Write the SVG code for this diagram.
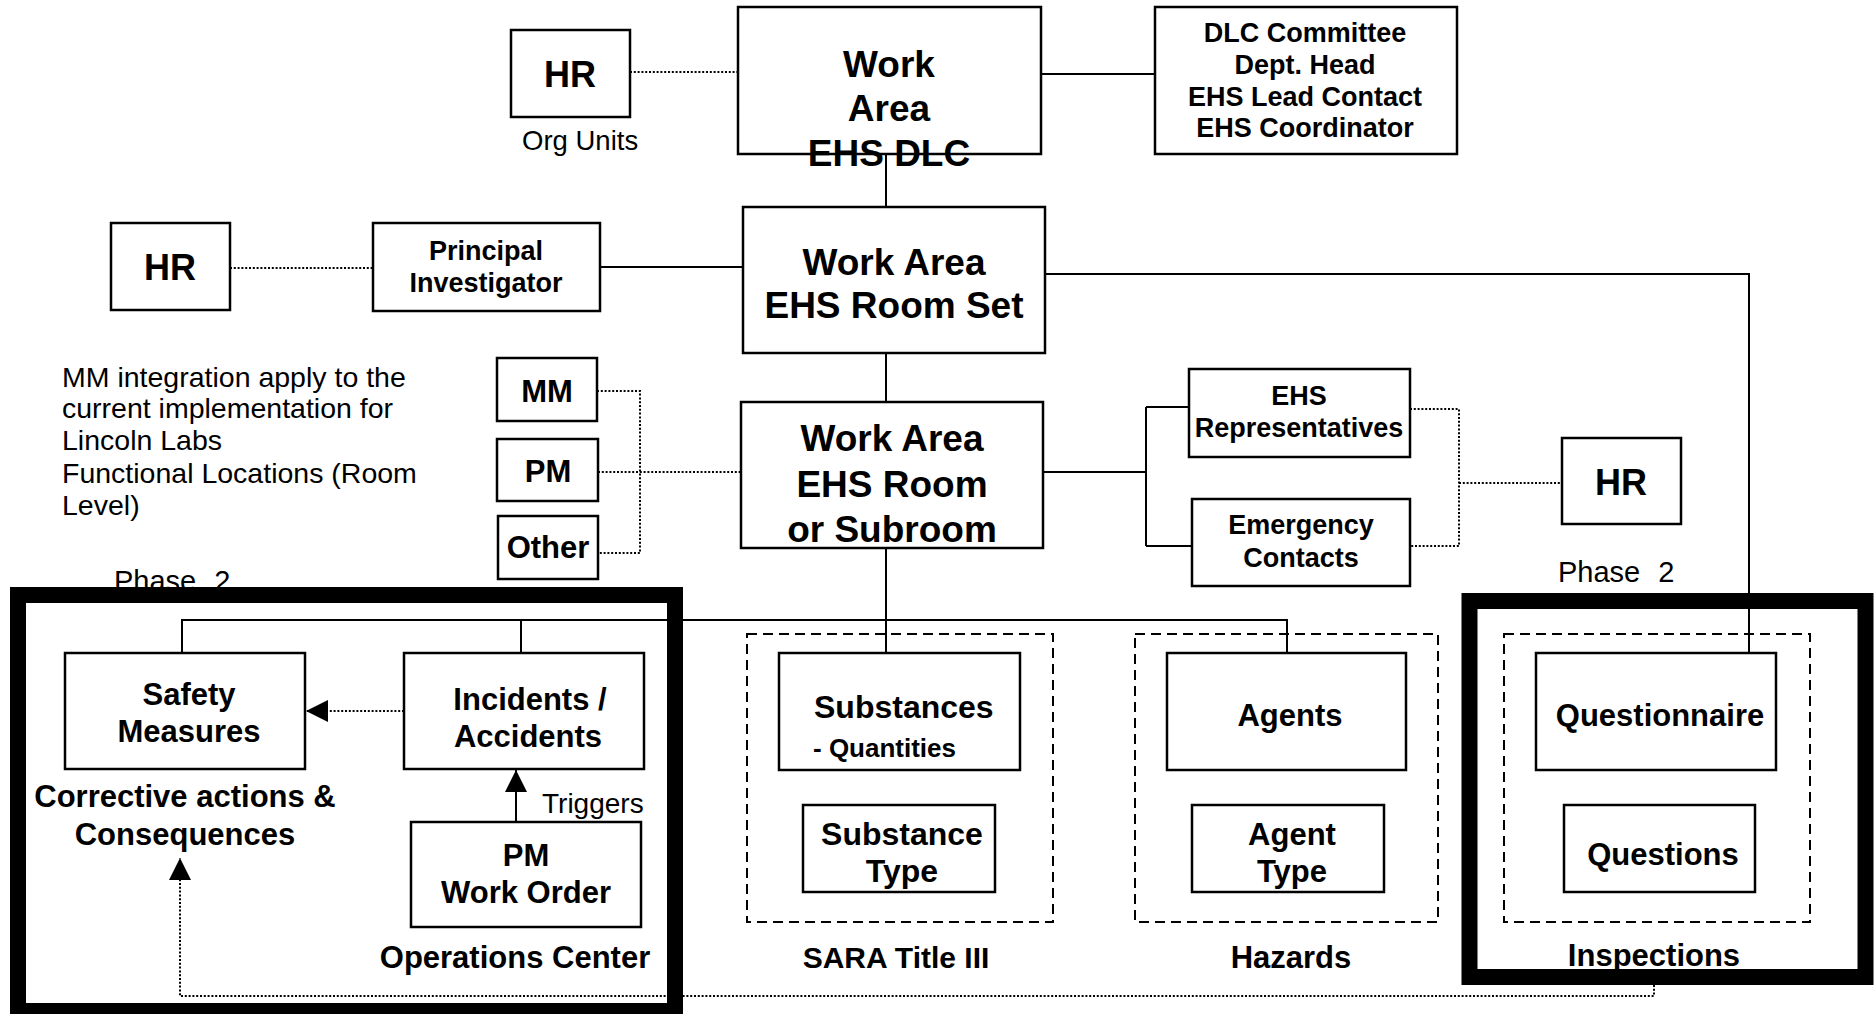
<svg xmlns="http://www.w3.org/2000/svg" width="1875" height="1014" viewBox="0 0 1875 1014">
<style>
  .box{fill:#fff;stroke:#000;stroke-width:2.5}
  .grp{fill:none;stroke:#000;stroke-width:2;stroke-dasharray:10 6}
  .frame{fill:none;stroke:#000;stroke-width:16}
  .ln{fill:none;stroke:#000;stroke-width:2}
  .dot{stroke-dasharray:2 1.8}
  text{font-family:"Liberation Sans",Arial,sans-serif;fill:#000}
  .b{font-weight:bold;text-anchor:middle}
  .bl{font-weight:bold}
  .r{font-weight:normal}
</style>
<defs>
  <marker id="ah" markerUnits="userSpaceOnUse" markerWidth="22" markerHeight="22" refX="22" refY="11" orient="auto">
    <path d="M0,0 L22,11 L0,22 z" fill="#000"/>
  </marker>
</defs>
<rect width="1875" height="1014" fill="#fff"/>

<!-- dashed groupings -->
<g id="grp-sara"><rect class="grp" x="747" y="634" width="306" height="288"/></g>
<g id="grp-hazards"><rect class="grp" x="1135" y="634" width="303" height="288"/></g>
<g id="grp-inspections"><rect class="grp" x="1504" y="634" width="306" height="288"/></g>

<!-- connectors -->
<g id="connectors">
  <path class="ln dot" d="M630,72 H738"/>
  <path class="ln" d="M1041,74 H1155"/>
  <path class="ln" d="M886,154 V207"/>
  <path class="ln" d="M600,267 H743"/>
  <path class="ln dot" d="M230,268 H373"/>
  <path class="ln" d="M1045,274 H1749 V653"/>
  <path class="ln" d="M886,353 V402"/>
  <path class="ln" d="M1043,472 H1146 M1146,407 V546 M1146,407 H1189 M1146,546 H1192"/>
  <path class="ln dot" d="M1410,409 H1459 V546 H1410 M1459,483 H1562"/>
  <path class="ln dot" d="M597,391 H640 V553 H599 M598,472 H741"/>
  <path class="ln" d="M886,548 V653"/>
  <path class="ln" d="M182,653 V620 H1287 V653 M521,620 V653"/>
  <path class="ln dot" d="M404,711 H306" marker-end="url(#ah)"/>
  <path class="ln" d="M516,822 V770" marker-end="url(#ah)"/>
  <path class="ln dot" d="M1654,985 V996 H180 V858" marker-end="url(#ah)"/>
</g>

<!-- top -->
<g id="hr-org">
  <rect class="box" x="511" y="30" width="119" height="87"/>
  <text class="b" x="570" y="87" font-size="36">HR</text>
  <text class="r" x="522" y="150" font-size="27.5">Org Units</text>
</g>
<g id="dlc">
  <rect class="box" x="738" y="7" width="303" height="147"/>
  <text class="b" font-size="37"><tspan x="889" y="77">Work</tspan><tspan x="889" y="121">Area</tspan><tspan x="889" y="166">EHS DLC</tspan></text>
</g>
<g id="dlc-committee">
  <rect class="box" x="1155" y="7" width="302" height="147"/>
  <text class="b" font-size="27"><tspan x="1305" y="42">DLC Committee</tspan><tspan x="1305" y="74">Dept. Head</tspan><tspan x="1305" y="106">EHS Lead Contact</tspan><tspan x="1305" y="137">EHS Coordinator</tspan></text>
</g>
<g id="hr-pi">
  <rect class="box" x="111" y="223" width="119" height="87"/>
  <text class="b" x="170" y="280" font-size="36">HR</text>
</g>
<g id="pi">
  <rect class="box" x="373" y="223" width="227" height="88"/>
  <text class="b" font-size="27"><tspan x="486" y="260">Principal</tspan><tspan x="486" y="292">Investigator</tspan></text>
</g>
<g id="room-set">
  <rect class="box" x="743" y="207" width="302" height="146"/>
  <text class="b" font-size="37"><tspan x="894" y="275">Work Area</tspan><tspan x="894" y="318">EHS Room Set</tspan></text>
</g>

<!-- middle -->
<g id="mm-note">
  <text class="r" font-size="28.5"><tspan x="62" y="387">MM integration apply to the</tspan><tspan x="62" y="418">current implementation for</tspan><tspan x="62" y="450">Lincoln Labs</tspan><tspan x="62" y="483">Functional Locations (Room</tspan><tspan x="62" y="515">Level)</tspan></text>
</g>
<g id="mm">
  <rect class="box" x="497" y="358" width="100" height="63"/>
  <text class="b" x="547" y="402" font-size="31">MM</text>
</g>
<g id="pm">
  <rect class="box" x="497" y="439" width="101" height="62"/>
  <text class="b" x="548" y="482" font-size="31">PM</text>
</g>
<g id="other">
  <rect class="box" x="498" y="516" width="100" height="63"/>
  <text class="b" x="548" y="558" font-size="31">Other</text>
</g>
<g id="room">
  <rect class="box" x="741" y="402" width="302" height="146"/>
  <text class="b" font-size="37"><tspan x="892" y="451">Work Area</tspan><tspan x="892" y="497">EHS Room</tspan><tspan x="892" y="542">or Subroom</tspan></text>
</g>
<g id="ehs-rep">
  <rect class="box" x="1189" y="369" width="221" height="88"/>
  <text class="b" font-size="27"><tspan x="1299" y="405">EHS</tspan><tspan x="1299" y="437">Representatives</tspan></text>
</g>
<g id="emergency">
  <rect class="box" x="1192" y="499" width="218" height="87"/>
  <text class="b" font-size="27"><tspan x="1301" y="534">Emergency</tspan><tspan x="1301" y="567">Contacts</tspan></text>
</g>
<g id="hr-ehs">
  <rect class="box" x="1562" y="438" width="119" height="86"/>
  <text class="b" x="1621" y="495" font-size="36">HR</text>
</g>

<!-- phase 2 labels -->
<text class="r" x="1558" y="582" font-size="29" word-spacing="10">Phase 2</text>
<text class="r" x="114" y="591" font-size="29" word-spacing="10">Phase 2</text>

<!-- bottom left -->
<g id="safety">
  <rect class="box" x="65" y="653" width="240" height="116"/>
  <text class="b" font-size="31"><tspan x="189" y="705">Safety</tspan><tspan x="189" y="742">Measures</tspan></text>
</g>
<text class="b" font-size="31"><tspan x="185" y="807">Corrective actions &amp;</tspan><tspan x="185" y="845">Consequences</tspan></text>
<g id="incidents">
  <rect class="box" x="404" y="653" width="240" height="116"/>
  <text class="b" font-size="31"><tspan x="530" y="710">Incidents /</tspan><tspan x="528" y="747">Accidents</tspan></text>
</g>
<text class="r" x="542" y="813" font-size="28">Triggers</text>
<g id="pm-wo">
  <rect class="box" x="411" y="822" width="230" height="105"/>
  <text class="b" font-size="31"><tspan x="526" y="866">PM</tspan><tspan x="526" y="903">Work Order</tspan></text>
</g>
<text class="b" x="515" y="968" font-size="31">Operations Center</text>

<!-- SARA -->
<g id="substances">
  <rect class="box" x="779" y="653" width="241" height="117"/>
  <text class="bl" x="814" y="718" font-size="32">Substances</text>
  <text class="bl" x="813" y="757" font-size="26">- Quantities</text>
</g>
<g id="substance-type">
  <rect class="box" x="803" y="805" width="192" height="87"/>
  <text class="b" font-size="32"><tspan x="902" y="845">Substance</tspan><tspan x="902" y="882">Type</tspan></text>
</g>
<text class="b" x="896" y="968" font-size="30">SARA Title III</text>

<!-- Hazards -->
<g id="agents">
  <rect class="box" x="1167" y="653" width="239" height="117"/>
  <text class="b" x="1290" y="726" font-size="31">Agents</text>
</g>
<g id="agent-type">
  <rect class="box" x="1192" y="805" width="192" height="87"/>
  <text class="b" font-size="31"><tspan x="1292" y="845">Agent</tspan><tspan x="1292" y="882">Type</tspan></text>
</g>
<text class="b" x="1291" y="968" font-size="31">Hazards</text>

<!-- Inspections -->
<g id="questionnaire">
  <rect class="box" x="1536" y="653" width="240" height="117"/>
  <text class="b" x="1660" y="726" font-size="31">Questionnaire</text>
</g>
<g id="questions">
  <rect class="box" x="1564" y="805" width="191" height="87"/>
  <text class="b" x="1663" y="865" font-size="31">Questions</text>
</g>
<text class="b" x="1654" y="966" font-size="31">Inspections</text>

<!-- phase 2 frames -->
<g id="phase2-left"><rect class="frame" x="18" y="595" width="657" height="416"/></g>
<g id="phase2-right"><rect class="frame" x="1469.5" y="601" width="396" height="376"/></g>
</svg>
